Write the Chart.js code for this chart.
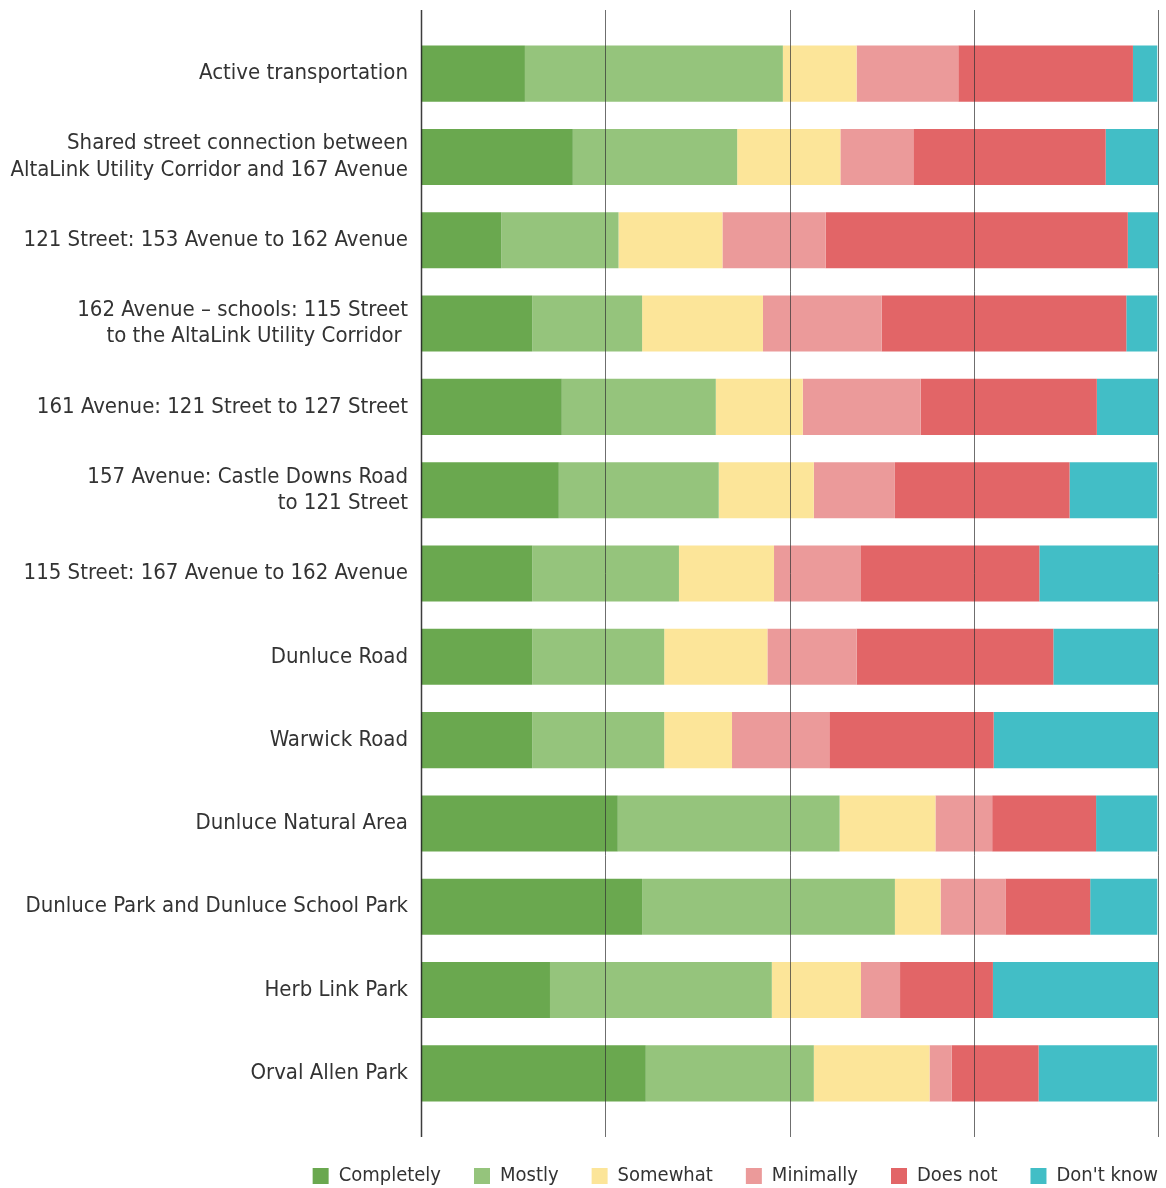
<!DOCTYPE html>
<html>
<head>
<meta charset="utf-8">
<script src="https://cdn.jsdelivr.net/npm/chart.js@4.4.1/dist/chart.umd.min.js"></script>
<style>
  html, body { margin: 0; padding: 0; background: #fff; }
  #wrap { width: 1166px; height: 1188px; }
</style>
</head>
<body>
<div id="wrap"><canvas id="chart"></canvas></div>
<script>
/* ==============================
   DATA (percent of respondents)
============================== */
var places = [
    "Active transportation",
    ["Shared street connection between", "AltaLink Utility Corridor and 167 Avenue"],
    "121 Street: 153 Avenue to 162 Avenue",
    ["162 Avenue \u2013 schools: 115 Street", "to the AltaLink Utility Corridor "],
    "161 Avenue: 121 Street to 127 Street",
    ["157 Avenue: Castle Downs Road", "to 121 Street"],
    "115 Street: 167 Avenue to 162 Avenue",
    "Dunluce Road",
    "Warwick Road",
    "Dunluce Natural Area",
    "Dunluce Park and Dunluce School Park",
    "Herb Link Park",
    "Orval Allen Park"
];
var answers = ["Completely", "Mostly", "Somewhat", "Minimally", "Does not", "Don't know"];
var completely = [14.1, 20.6, 10.9, 15.1, 19.1, 18.7, 15.1, 15.1, 15.1, 26.7, 30.0, 17.5, 30.5];
var mostly     = [35.0, 22.3, 15.9, 14.9, 20.9, 21.7, 19.9, 17.9, 17.9, 30.1, 34.3, 30.1, 22.8];
var somewhat   = [10.0, 14.0, 14.1, 16.4, 11.8, 12.9, 12.9, 14.0,  9.2, 13.0,  6.2, 12.1, 15.7];
var minimally  = [13.8,  9.9, 14.0, 16.1, 16.0, 11.0, 11.8, 12.1, 13.2,  7.7,  8.8,  5.3,  3.0];
var doesNot    = [23.7, 26.1, 41.0, 33.2, 23.9, 23.7, 24.2, 26.7, 22.3, 14.1, 11.5, 12.6, 11.8];
var dontKnow   = [ 3.3,  7.2,  4.2,  4.2,  8.3, 11.9, 16.1, 14.2, 22.4,  8.3,  9.1, 22.4, 16.1];
var gridTicks  = [0, 25, 50, 75, 100];

var colors = ["#6aa84f", "#95c47c", "#fce599", "#eb9a9a", "#e26567", "#42bec6"];
var series = [completely, mostly, somewhat, minimally, doesNot, dontKnow];

var FONT = "'DejaVu Sans Condensed', 'Roboto', sans-serif";
var LEGEND_GAP = 33;

/* ==============================
   GRID ON TOP (extends past bars)
============================== */
var gridOverlay = {
    id: "gridOverlay",
    afterLayout: function (chart) {
        // push legend flush right and down a little
        var lg = chart.legend;
        if (!lg) return;
        lg.left += LEGEND_GAP;
        lg.right += LEGEND_GAP;
        lg.top += 18;
        lg.bottom += 18;
    },
    afterDatasetsDraw: function (chart) {
        var ctx = chart.ctx;
        var area = chart.chartArea;
        var x = chart.scales.x;
        ctx.save();
        gridTicks.forEach(function (t, i) {
            var px = Math.round(x.getPixelForValue(t)) + 0.5;
            ctx.beginPath();
            ctx.strokeStyle = i === 0 ? "rgba(40,40,40,0.9)" : "rgba(50,50,50,0.7)";
            ctx.lineWidth = i === 0 ? 1.5 : 1;
            ctx.moveTo(px, area.top - 22);
            ctx.lineTo(px, area.bottom + 22);
            ctx.stroke();
        });
        ctx.restore();
    }
};

var datasets = answers.map(function (name, i) {
    return {
        label: name,
        data: series[i],
        backgroundColor: colors[i],
        borderWidth: 0,
        categoryPercentage: 0.673,
        barPercentage: 1
    };
});

new Chart(document.getElementById("chart"), {
    type: "bar",
    data: { labels: places, datasets: datasets },
    plugins: [gridOverlay],
    options: {
        indexAxis: "y",
        responsive: true,
        maintainAspectRatio: false,
        animation: false,
        layout: { padding: { top: 32, right: 8, bottom: 10, left: 0 } },
        scales: {
            x: {
                stacked: true,
                min: 0,
                max: 100,
                display: false
            },
            y: {
                stacked: true,
                afterFit: function (scale) { scale.width = 421; },
                grid: { display: false, drawTicks: false },
                border: { display: false },
                ticks: {
                    color: "#333",
                    padding: 13,
                    font: { family: FONT, size: 22 }
                }
            }
        },
        plugins: {
            legend: {
                position: "bottom",
                align: "end",
                labels: {
                    boxWidth: 16,
                    boxHeight: 16,
                    padding: LEGEND_GAP,
                    color: "#333",
                    font: { family: FONT, size: 20 }
                }
            },
            tooltip: { enabled: false }
        }
    }
});
</script>
</body>
</html>
